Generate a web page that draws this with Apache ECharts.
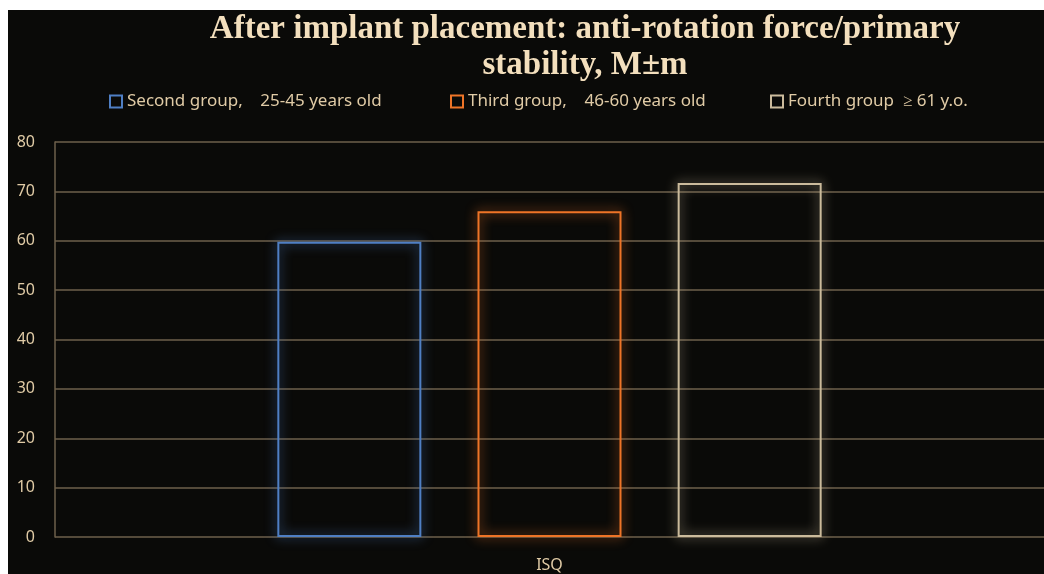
<!DOCTYPE html>
<html>
<head>
	<meta charset="utf-8">
	<title>ISQ chart</title>
	<script type="text/javascript" src="https://cdn.jsdelivr.net/npm/echarts@6/dist/echarts.min.js"></script>
	<style type="text/css">
		html, body{ margin:0; padding:0; background:#fff; }
		#chart-1{
			position:absolute;
			left:8px;
			top:10px;
			width:1036px;
			height:564px;
			background:#0a0a08;
		}
	</style>
</head>
<body>
	<div id="chart-1"></div>
<script type="text/javascript">
	// data
	var categories = ['ISQ'];
	var groupNames = ['Second group,    25-45 years old', 'Third group,    46-60 years old', 'Fourth group  \u2265 61 y.o.'];
	var secondGroup = [59.8];
	var thirdGroup = [66.0];
	var fourthGroup = [71.7];
	var yTicks = [0, 10, 20, 30, 40, 50, 60, 70, 80];

	var colors = ['#4f7fc4', '#ee7427', '#cbbb9c'];
	var beige = '#e0cba6';

	function barSeries(name, data, color){
		return {
			name: name,
			type: 'bar',
			data: data,
			barWidth: 144,
			barGap: '39%',
			itemStyle: {
				color: 'rgba(0,0,0,0)',
				borderColor: color,
				borderWidth: 2,
				shadowColor: color,
				shadowBlur: 12
			}
		};
	}

	function legendAt(left, name){
		return {
			left: left,
			top: 78,
			data: [name],
			icon: 'rect',
			itemWidth: 12,
			itemHeight: 12,
			itemGap: 4,
			textStyle: { color: beige, fontFamily: 'Noto Sans', fontSize: 17 }
		};
	}

	var myChart = echarts.init(document.getElementById('chart-1'));
	var option = {
		backgroundColor: '#0a0a08',
		animation: false,
		title: {
			text: 'After implant placement: anti-rotation force/primary\nstability, M\u00b1m',
			left: 572,
			textAlign: 'center',
			top: -4,
			textStyle: {
				color: '#f3dfbd',
				fontFamily: 'Liberation Serif',
				fontWeight: 'bold',
				fontSize: 33,
				lineHeight: 36
			}
		},
		legend: [
			legendAt(96, groupNames[0]),
			legendAt(437, groupNames[1]),
			legendAt(757, groupNames[2])
		],
		grid: { left: 47, right: -6, top: 132, bottom: 37 },
		xAxis: {
			type: 'category',
			data: categories,
			axisLine: { show: false },
			axisTick: { show: false },
			axisLabel: { color: beige, fontFamily: 'Noto Sans', fontSize: 16, margin: 20 }
		},
		yAxis: {
			type: 'value',
			min: yTicks[0],
			max: yTicks[yTicks.length - 1],
			interval: 10,
			axisLine: { show: true, lineStyle: { color: '#6e604b', width: 1.5 } },
			axisTick: { show: false },
			axisLabel: { color: beige, fontFamily: 'Noto Sans', fontSize: 16, margin: 20 },
			splitLine: { lineStyle: { color: '#6e604b', width: 1.5 } }
		},
		series: [
			barSeries(groupNames[0], secondGroup, colors[0]),
			barSeries(groupNames[1], thirdGroup, colors[1]),
			barSeries(groupNames[2], fourthGroup, colors[2])
		]
	};
	myChart.setOption(option);
</script>
</body>
</html>
